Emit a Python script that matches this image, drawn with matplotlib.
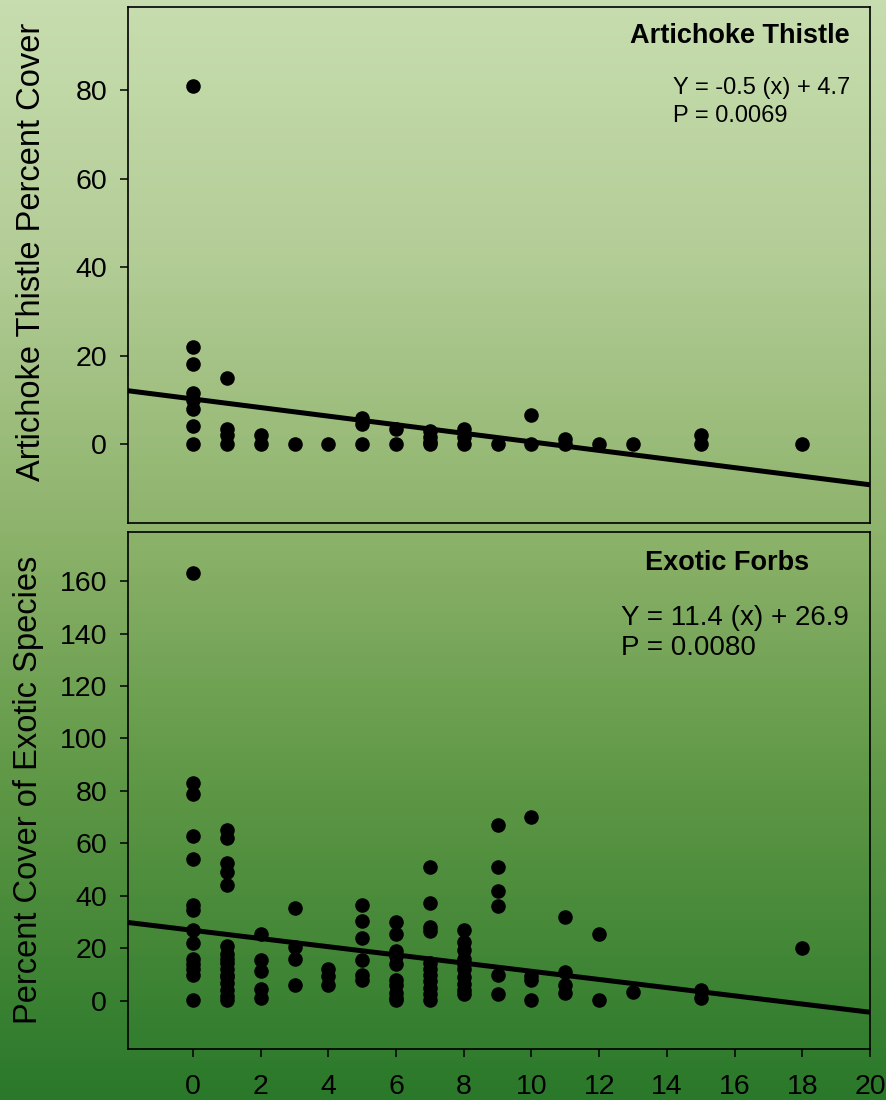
import numpy as np
import matplotlib
matplotlib.use("Agg")
import matplotlib.pyplot as plt
from matplotlib.colors import LinearSegmentedColormap

plt.rcParams['font.family'] = ['Liberation Sans', 'DejaVu Sans']

# Artichoke Thistle percent cover vs x
thistle_x = [0, 0, 0, 0, 0, 0, 0, 0,
             1, 1, 1, 1,
             2, 2, 3, 4,
             5, 5, 5, 6, 6,
             7, 7, 7, 7, 8, 8, 8,
             9, 10, 10, 11, 11, 12, 13, 15, 15, 18]
thistle_y = [81, 22, 18, 11.5, 10, 8, 4, 0,
             15, 3.5, 2, 0,
             2, 0, 0, 0,
             6, 4.5, 0, 3.5, 0,
             3, 1.5, 0.5, 0, 3.5, 1.5, 0,
             0, 6.6, 0, 1.2, 0, 0, 0, 2, 0, 0]
thistle_fit = (10.2, -0.97)   # intercept, slope as drawn

# Exotic forbs percent cover vs x
forbs_x = ([0] * 14 + [1] * 16 + [2] * 5 + [3] * 4 + [4] * 3 + [5] * 6
           + [6] * 10 + [7] * 11 + [8] * 10 + [9] * 6 + [10] * 4 + [11] * 4
           + [12] * 2 + [13] + [15] * 2 + [18])
forbs_y = [163, 83, 79, 63, 54, 36.5, 34.5, 27, 22, 16, 14, 12, 10, 0.5,
           65, 62, 52.5, 49, 44, 21, 18, 16, 14.5, 12, 10, 9, 7, 4, 2, 0.5,
           25.5, 15.5, 11.5, 4.5, 1,
           35.5, 20.5, 16, 6,
           12, 9.5, 6,
           36.5, 30.5, 24, 15.5, 10, 8,
           30, 25.5, 19, 17, 14, 8, 6, 3, 1, 0.3,
           51, 37.5, 28, 26.5, 14.5, 12, 10, 7.5, 5, 2.5, 0.5,
           27, 22.5, 19.5, 16, 14, 12, 9, 6.5, 4, 2.5,
           67, 51, 42, 36, 10, 2.5,
           70, 9.5, 8, 0.3,
           32, 11, 6, 3,
           25.5, 0.3,
           3.5,
           4, 1,
           20]
forbs_fit = (26.9, -1.56)

fig = plt.figure(figsize=(8.87, 11), dpi=100)

# gradient background
bg = fig.add_axes([0, 0, 1, 1], zorder=-10)
cmap = LinearSegmentedColormap.from_list(
    "g", [(0.0, "#c7ddaf"), (0.23, "#b4cd97"), (0.49, "#8cb26a"),
          (0.71, "#5f9846"), (1.0, "#2a782a")])
grad = np.linspace(0, 1, 256).reshape(-1, 1)
bg.imshow(grad, aspect="auto", cmap=cmap, extent=[0, 1, 0, 1])
bg.set_axis_off()

ax1 = fig.add_axes([0.1443, 0.5245, 0.8365, 0.4691])
ax2 = fig.add_axes([0.1443, 0.0464, 0.8365, 0.4700])

xl = (-1.92, 20.0)
for ax in (ax1, ax2):
    ax.set_facecolor("none")
    ax.set_xlim(*xl)
    for s in ax.spines.values():
        s.set_linewidth(1.2)
        s.set_color("black")
    ax.tick_params(axis="y", direction="out", length=6, width=1.1,
                   labelsize=20.5, pad=9)

ax1.set_ylim(-17.85, 98.8)
ax1.set_yticks([0, 20, 40, 60, 80])
ax1.set_xticks([])
ax1.scatter(thistle_x, thistle_y, s=110, color="black", zorder=3, linewidths=0)
xx = np.array(xl)
ax1.plot(xx, thistle_fit[0] + thistle_fit[1] * xx, color="black", lw=3.6,
         solid_capstyle="butt", zorder=4, clip_on=False)
ax1.text(0.972, 0.944, "Artichoke Thistle", transform=ax1.transAxes,
         ha="right", va="center", fontsize=19.5, fontweight="bold")
ax1.text(0.735, 0.843, "Y = -0.5 (x) + 4.7", transform=ax1.transAxes,
         ha="left", va="center", fontsize=17)
ax1.text(0.735, 0.788, "P = 0.0069", transform=ax1.transAxes,
         ha="left", va="center", fontsize=17)

ax2.set_ylim(-18.3, 178.7)
ax2.set_yticks(np.arange(0, 161, 20))
ax2.set_xticks(np.arange(0, 21, 2))
ax2.tick_params(axis="x", direction="out", length=6, width=1.1,
                labelsize=20.5, pad=12)
ax2.scatter(forbs_x, forbs_y, s=110, color="black", zorder=3, linewidths=0)
ax2.plot(xx, forbs_fit[0] + forbs_fit[1] * xx, color="black", lw=3.6,
         solid_capstyle="butt", zorder=4, clip_on=False)
ax2.text(0.807, 0.94, "Exotic Forbs", transform=ax2.transAxes,
         ha="center", va="center", fontsize=19.5, fontweight="bold")
ax2.text(0.665, 0.833, "Y = 11.4 (x) + 26.9", transform=ax2.transAxes,
         ha="left", va="center", fontsize=20)
ax2.text(0.665, 0.775, "P = 0.0080", transform=ax2.transAxes,
         ha="left", va="center", fontsize=20)

fig.text(0.035, 0.771, "Artichoke Thistle Percent Cover", rotation=90,
         ha="center", va="center", fontsize=23.5)
fig.text(0.032, 0.2818, "Percent Cover of Exotic Species", rotation=90,
         ha="center", va="center", fontsize=23.5)

fig.savefig("out.png", dpi=100)
